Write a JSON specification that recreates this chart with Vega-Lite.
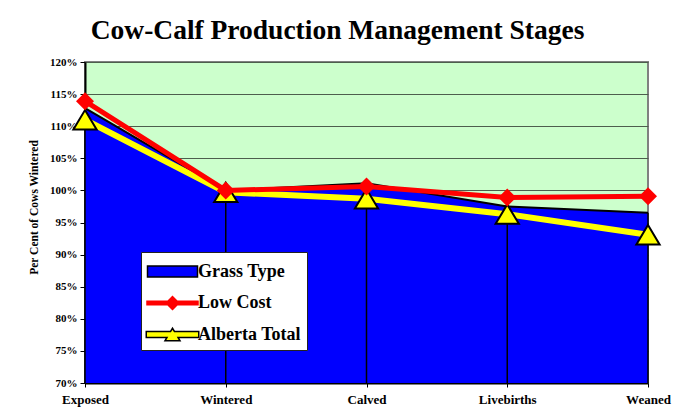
{
  "$schema": "https://vega.github.io/schema/vega-lite/v6.json",
  "width": 563,
  "height": 321,
  "autosize": {"type": "none"},
  "padding": {"left": 85, "top": 62, "right": 37, "bottom": 30},
  "background": "white",
  "title": {
    "text": "Cow-Calf Production Management Stages",
    "font": "Liberation Serif",
    "fontSize": 27.5,
    "fontWeight": "bold",
    "color": "black",
    "anchor": "middle",
    "frame": "group",
    "dx": -29,
    "offset": 12
  },
  "data": {
    "values": [
      {"stage": "Exposed", "Grass Type": 112.8, "Low Cost": 113.9, "Alberta Total": 111.0},
      {"stage": "Wintered", "Grass Type": 100.0, "Low Cost": 100.0, "Alberta Total": 99.7},
      {"stage": "Calved", "Grass Type": 101.1, "Low Cost": 100.6, "Alberta Total": 98.7},
      {"stage": "Livebirths", "Grass Type": 97.5, "Low Cost": 98.9, "Alberta Total": 96.3},
      {"stage": "Weaned", "Grass Type": 96.5, "Low Cost": 99.1, "Alberta Total": 93.1}
    ]
  },
  "transform": [{"fold": ["Grass Type", "Low Cost", "Alberta Total"], "as": ["series", "value"]}],
  "encoding": {
    "x": {
      "field": "stage",
      "type": "ordinal",
      "sort": null,
      "scale": {"type": "point", "padding": 0},
      "axis": {
        "title": null,
        "labelAngle": 0,
        "labelFont": "Liberation Serif",
        "labelFontSize": 13,
        "labelFontWeight": "bold",
        "labelColor": "black",
        "domainColor": "black",
        "domainWidth": 2,
        "tickColor": "black",
        "tickSize": 4,
        "labelPadding": 6,
        "grid": false
      }
    },
    "y": {
      "field": "value",
      "type": "quantitative",
      "scale": {"domain": [70, 120], "zero": false, "nice": false},
      "axis": {
        "values": [70, 75, 80, 85, 90, 95, 100, 105, 110, 115, 120],
        "labelExpr": "datum.value + '%'",
        "labelOverlap": false,
        "labelFont": "Liberation Serif",
        "labelFontSize": 11,
        "labelFontWeight": "bold",
        "labelColor": "black",
        "labelPadding": 3,
        "domainColor": "black",
        "domainWidth": 2,
        "tickColor": "black",
        "tickSize": 5,
        "gridColor": "#4d5e4d",
        "gridWidth": 1,
        "title": "Per Cent of Cows Wintered",
        "titleFont": "Liberation Serif",
        "titleFontSize": 11.5,
        "titleFontWeight": "bold",
        "titleColor": "black",
        "titlePadding": 10,
        "titleY": 145
      }
    }
  },
  "layer": [
    {
      "transform": [{"filter": "datum.series === 'Grass Type'"}],
      "mark": {"type": "area", "color": "#0000FF", "opacity": 1},
      "encoding": {"y2": {"datum": 70}}
    },
    {
      "transform": [{"filter": "datum.series === 'Grass Type'"}],
      "mark": {"type": "line", "color": "black", "strokeWidth": 2},
      "encoding": {}
    },
    {
      "transform": [{"filter": "datum.series === 'Grass Type'"}],
      "mark": {"type": "rule", "color": "black", "strokeWidth": 1.5},
      "encoding": {"y2": {"datum": 70}}
    },
    {
      "mark": {"type": "point", "filled": true, "size": 0, "strokeWidth": 0, "opacity": 1},
      "encoding": {
        "shape": {
          "field": "series",
          "type": "nominal",
          "scale": {
            "domain": ["Grass Type", "Low Cost", "Alberta Total"],
            "range": [
              "M-2,-0.44H2V0.44H-2Z",
              "M-2.1,-0.2H-0.4L0,-0.6L0.4,-0.2H2.1V0.2H0.4L0,0.6L-0.4,0.2H-2.1Z",
              "M-2.1,-0.24L-0.156,-0.24L0,-0.5L0.156,-0.24L2.1,-0.24L2.1,0.24L0.444,0.24L0.6,0.5L-0.6,0.5L-0.444,0.24L-2.1,0.24Z"
            ]
          },
          "legend": {
            "orient": "none",
            "legendX": 56,
            "legendY": 190,
            "title": null,
            "fillColor": "white",
            "strokeColor": "#222222",
            "padding": 6,
            "rowPadding": 7.5,
            "gridAlign": "all",
            "symbolSize": 625,
            "symbolOffset": 12,
            "labelOffset": 12,
            "labelFont": "Liberation Serif",
            "labelFontSize": 18,
            "labelFontWeight": "bold",
            "labelColor": "black",
            "labelLimit": 300,
            "encoding": {
              "symbols": {
                "size": {"value": 625},
                "fill": {"value": {"expr": "datum.value === 'Grass Type' ? '#0000FF' : (datum.value === 'Low Cost' ? '#FF0000' : '#FFFF00')"}},
                "stroke": {"value": {"expr": "datum.value === 'Low Cost' ? 'transparent' : 'black'"}},
                "strokeWidth": {"value": 1.5},
                "opacity": {"value": 1}
              }
            }
          }
        }
      }
    },
    {
      "transform": [{"filter": "datum.series === 'Alberta Total'"}],
      "mark": {"type": "line", "color": "#FFFF00", "strokeWidth": 6},
      "encoding": {}
    },
    {
      "transform": [{"filter": "datum.series === 'Alberta Total'"}],
      "mark": {"type": "point", "shape": "M0,-0.5L0.6,0.5L-0.6,0.5Z", "filled": true, "fill": "#FFFF00", "stroke": "black", "strokeWidth": 2, "opacity": 1, "size": 1500},
      "encoding": {}
    },
    {
      "transform": [{"filter": "datum.series === 'Low Cost'"}],
      "mark": {"type": "line", "color": "#FF0000", "strokeWidth": 5},
      "encoding": {}
    },
    {
      "transform": [{"filter": "datum.series === 'Low Cost'"}],
      "mark": {"type": "point", "shape": "M0,-0.55L0.55,0L0,0.55L-0.55,0Z", "filled": true, "fill": "#FF0000", "strokeWidth": 0, "opacity": 1, "size": 1070},
      "encoding": {}
    }
  ],
  "config": {
    "view": {"fill": "#CCFFCC", "stroke": "#808080", "strokeWidth": 2}
  }
}
